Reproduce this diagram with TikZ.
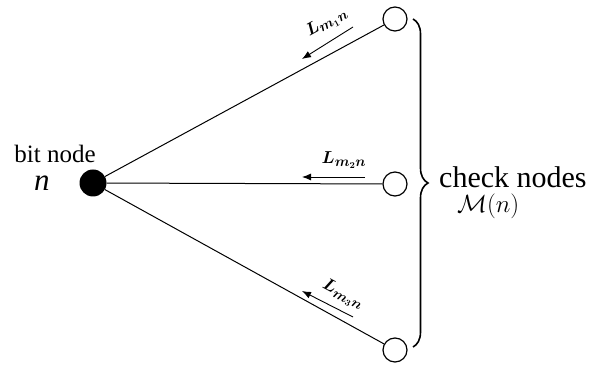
\documentclass[tikz,border=0pt]{standalone}
\usepackage{bm}
\usepackage{fontspec}
\setmainfont{Liberation Serif}
\usetikzlibrary{decorations.pathreplacing,arrows.meta}
\begin{document}
\begin{tikzpicture}[x=1pt,y=-1pt,
  check/.style={circle,draw,line width=1.2pt,minimum size=24pt,inner sep=0pt,fill=white},
  bit/.style={circle,fill=black,minimum size=27pt,inner sep=0pt},
  edge/.style={line width=1pt},
  msg/.style={line width=0.9pt,-{Latex[length=9pt,width=7pt]}},
  lbl/.style={font=\fontsize{19}{19}\selectfont,inner sep=1pt}]
\useasboundingbox (0,0) rectangle (598,371);
\node[bit] (b) at (93,183) {};
\node[check] (c1) at (395,19) {};
\node[check] (c2) at (395,184) {};
\node[check] (c3) at (395,350) {};
\draw[edge] (b) -- (c1);
\draw[edge] (b) -- (c2);
\draw[edge] (b) -- (c3);
\coordinate (a1s) at (353,27); \coordinate (a1e) at (302,59);
\coordinate (a2s) at (365,177); \coordinate (a2e) at (302,177);
\coordinate (a3s) at (353,317); \coordinate (a3e) at (302,291);
\draw[msg] (a1s) -- (a1e);
\draw[msg] (a2s) -- (a2e);
\draw[msg] (a3s) -- (a3e);
\node[lbl,rotate=29] (l1) at (327,23) {$\bm{L_{m_1n}}$};
\node[lbl] (l2) at (344,160) {$\bm{L_{m_2n}}$};
\node[lbl,rotate=-28] (l3) at (343,295) {$\bm{L_{m_3n}}$};
\node[font=\fontsize{25}{25}\selectfont] (bt) at (55,154) {bit node};
\node[font=\fontsize{31}{31}\selectfont] (n) at (42,183) {\textit{n}};
\draw[line width=1.6pt,decorate,decoration={brace,amplitude=15pt}] (413,19) -- (413,347);
\node[font=\fontsize{30}{30}\selectfont,anchor=west,inner sep=0pt] (cn) at (439,177) {check nodes};
\node[font=\fontsize{27}{27}\selectfont,anchor=west,inner sep=0pt] (mn) at (457,206) {$\mathcal{M}(n)$};
\end{tikzpicture}
\end{document}
